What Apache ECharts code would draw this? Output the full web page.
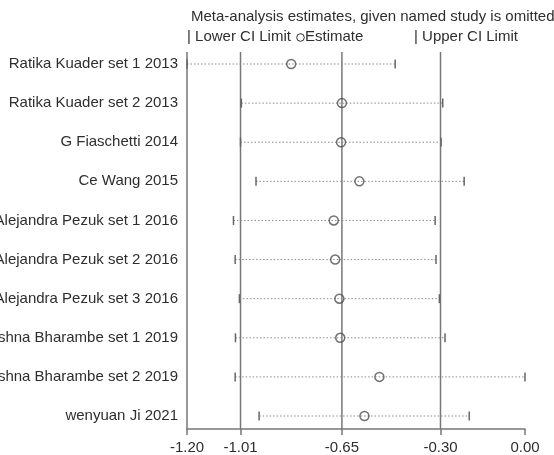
<!DOCTYPE html>
<html>
<head>
<meta charset="utf-8">
<script src="https://cdn.jsdelivr.net/npm/echarts@6/dist/echarts.min.js"></script>
<style>
html,body{margin:0;padding:0;background:#fff;}
#chart{width:554px;height:455px;}
</style>
</head>
<body>
<div id="chart"></div>
<script>
var studies = [
  "Ratika Kuader set 1 2013",
  "Ratika Kuader set 2 2013",
  "G Fiaschetti 2014",
  "Ce Wang 2015",
  "Alejandra Pezuk set 1 2016",
  "Alejandra Pezuk set 2 2016",
  "Alejandra Pezuk set 3 2016",
  "shna Bharambe set 1 2019",
  "shna Bharambe set 2 2019",
  "wenyuan Ji 2021"
];
var estimates = [-0.83, -0.65, -0.653, -0.588, -0.679, -0.674, -0.659, -0.656, -0.517, -0.570];
var lowerCI   = [-1.20, -1.007, -1.01, -0.955, -1.035, -1.029, -1.014, -1.028, -1.029, -0.944];
var upperCI   = [-0.461, -0.292, -0.298, -0.216, -0.319, -0.316, -0.304, -0.284, 0.00, -0.198];
var xTicks = [-1.20, -1.01, -0.65, -0.30, 0.00];
var refLines = [-1.20, -1.01, -0.65, -0.30];
var titleText = "Meta-analysis estimates, given named study is omitted";

var n = studies.length;
var yMin = 0.668, yMax = 10.307;
function rowY(i){ return n - i; }

var ciData = studies.map(function(s, i){ return [lowerCI[i], upperCI[i], rowY(i)]; });
var estData = studies.map(function(s, i){ return [estimates[i], rowY(i)]; });
var yVals = studies.map(function(s, i){ return rowY(i); });
var refData = refLines.map(function(v){ return [v, yMin, yMax]; });

var chart = echarts.init(document.getElementById('chart'), null, {renderer:'canvas'});
var textColor = '#2e2e2e';
var lineColor = '#777';
var font = 'Liberation Sans, Arial, sans-serif';

chart.setOption({
  animation: false,
  backgroundColor: '#fff',
  textStyle: {fontFamily: font},
  grid: {left: 187, right: 29, top: 52, bottom: 26, containLabel: false, outerBoundsMode: 'none'},
  xAxis: {
    type: 'value', min: -1.2, max: 0,
    axisLine: {show: true, lineStyle: {color: lineColor, width: 1.5}},
    axisTick: {show: true, customValues: xTicks, length: 6, lineStyle: {color: lineColor, width: 1.5}},
    axisLabel: {customValues: xTicks, color: textColor, fontSize: 15, fontFamily: font, margin: 11,
      formatter: function(v){ return v.toFixed(2); }},
    splitLine: {show: false}
  },
  yAxis: {
    type: 'value', min: yMin, max: yMax,
    axisLine: {show: false}, axisTick: {show: false}, splitLine: {show: false},
    axisLabel: {customValues: yVals, color: textColor, fontSize: 15, fontFamily: font, margin: 9,
      formatter: function(v){ var i = n - Math.round(v); return studies[i] || ''; }}
  },
  graphic: [
    {type: 'text', left: 191, top: 9, style: {text: titleText, fill: textColor, font: '15px ' + font}},
    {type: 'text', left: 187, top: 29, style: {text: '| Lower CI Limit', fill: textColor, font: '15px ' + font}},
    {type: 'circle', shape: {cx: 300.5, cy: 37.5, r: 3.8}, style: {fill: 'none', stroke: textColor, lineWidth: 1}},
    {type: 'text', left: 305, top: 29, style: {text: 'Estimate', fill: textColor, font: '15px ' + font}},
    {type: 'text', left: 414, top: 29, style: {text: '| Upper CI Limit', fill: textColor, font: '15px ' + font}}
  ],
  series: [
    {
      type: 'custom',
      clip: false,
      silent: true,
      data: refData,
      encode: {x: 0, y: [1, 2]},
      z: 1,
      renderItem: function(params, api){
        var p1 = api.coord([api.value(0), api.value(1)]);
        var p2 = api.coord([api.value(0), api.value(2)]);
        return {type: 'line', shape: {x1: p1[0], y1: p1[1], x2: p2[0], y2: p2[1]},
          style: {stroke: lineColor, lineWidth: 1.5}};
      }
    },
    {
      type: 'custom',
      clip: false,
      silent: true,
      data: ciData,
      encode: {x: [0, 1], y: 2},
      z: 2,
      renderItem: function(params, api){
        var p1 = api.coord([api.value(0), api.value(2)]);
        var p2 = api.coord([api.value(1), api.value(2)]);
        var h = 4.5;
        return {
          type: 'group',
          children: [
            {type: 'line', shape: {x1: p1[0], y1: p1[1], x2: p2[0], y2: p2[1]},
              style: {stroke: '#8a8a8a', lineWidth: 1, lineDash: [1.5, 2]}},
            {type: 'line', shape: {x1: p1[0], y1: p1[1]-h, x2: p1[0], y2: p1[1]+h},
              style: {stroke: '#666', lineWidth: 1.5}},
            {type: 'line', shape: {x1: p2[0], y1: p2[1]-h, x2: p2[0], y2: p2[1]+h},
              style: {stroke: '#666', lineWidth: 1.5}}
          ]
        };
      }
    },
    {
      type: 'scatter',
      data: estData,
      symbol: 'circle',
      symbolSize: 9,
      itemStyle: {color: 'rgba(255,255,255,0)', borderColor: '#4d4d4d', borderWidth: 1.5},
      z: 5
    }
  ]
});
</script>
</body>
</html>
